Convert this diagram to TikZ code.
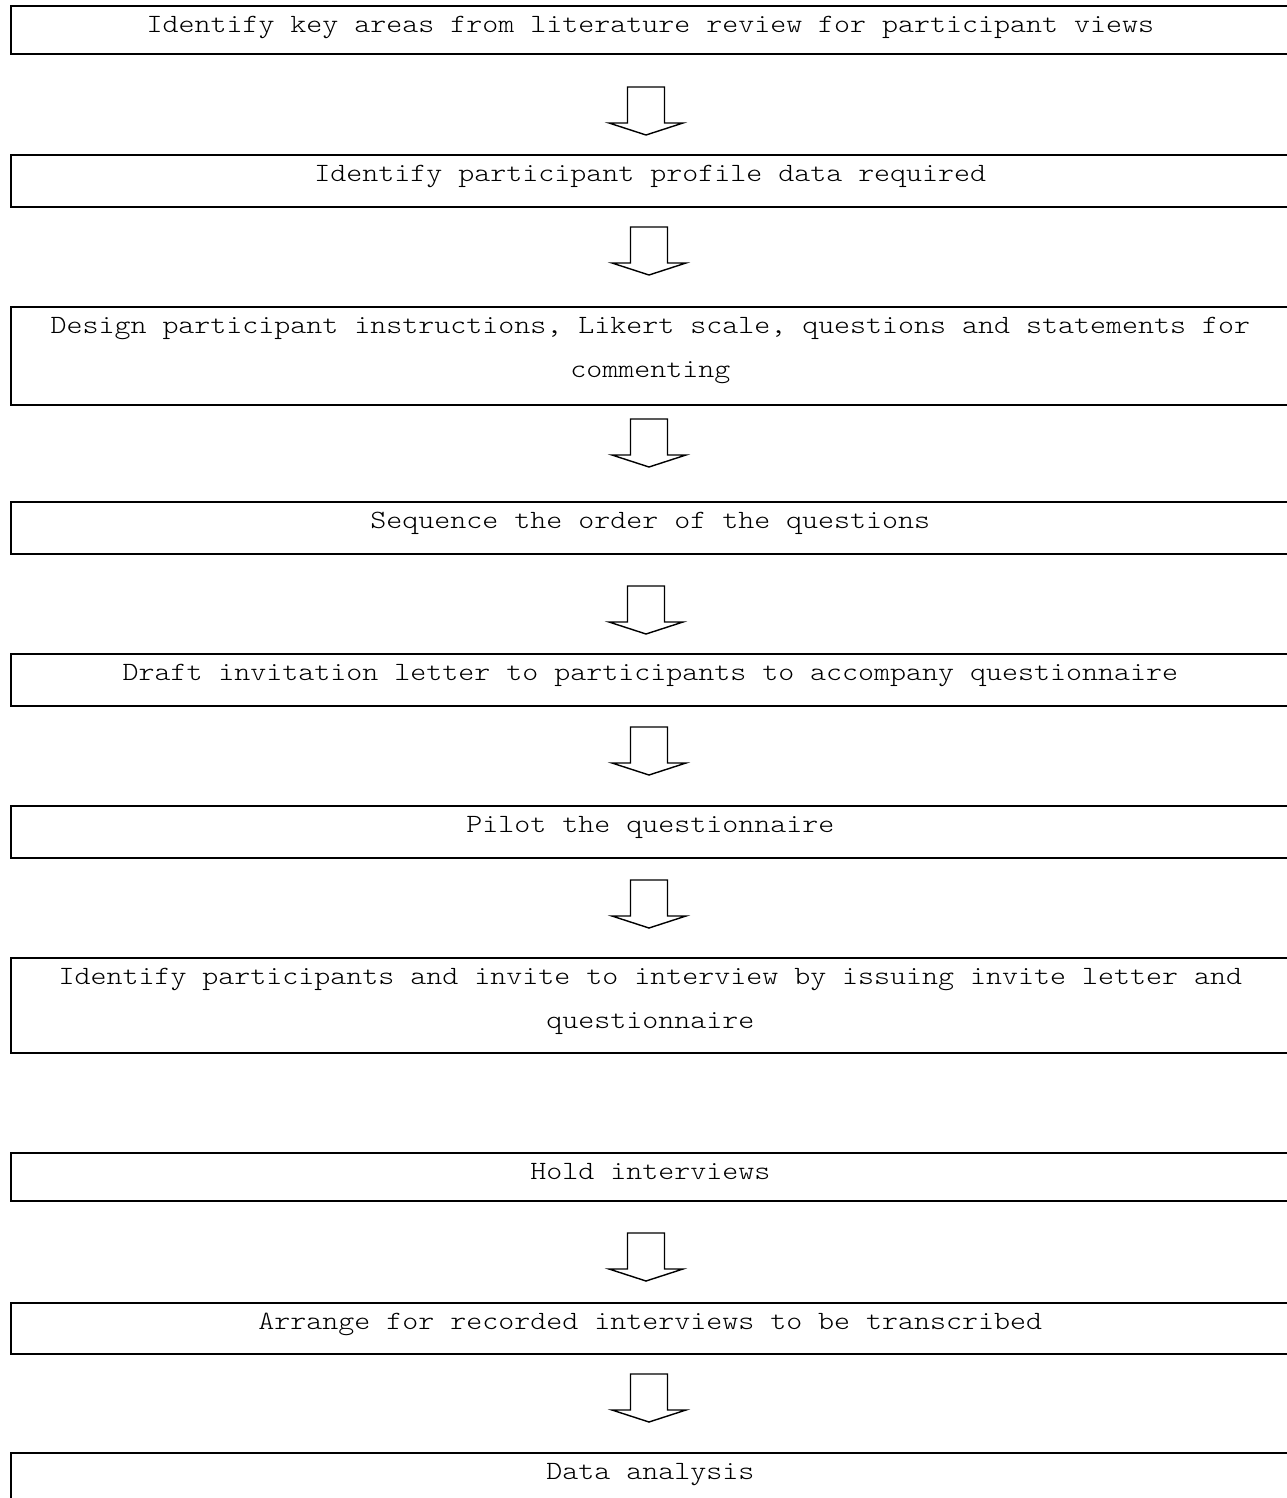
\documentclass[tikz,border=0pt]{standalone}
\usepackage{fontspec}
\newfontfamily\courfont[FakeStretch=1.156]{lmmonolt10-regular.otf}
\newcommand\courspace{\spaceskip=9.1pt\relax\xspaceskip=9.1pt\relax}
\usetikzlibrary{positioning}

\begin{document}
\begin{tikzpicture}[
		x=0.02cm, y=-0.02cm,
		stage/.style={
			draw,
			rectangle,
			line width=1.1pt,
			anchor=north west,
			inner sep=0pt,
			text width=25.58cm,
			align=center,
			text height=0.54cm,
			font=\courfont\fontsize{15pt}{25pt}\selectfont,
			execute at begin node=\courspace
		},
		flow/.pic={
			\draw[line width=0.8pt, line join=miter] (-18.5,0) -- (-18.5,36) -- (-37,36) -- (0,48) -- (37,36) -- (18.5,36) -- (18.5,0) -- cycle;
		}
	]
		\useasboundingbox (0,0) rectangle (1287,1498);
		\clip (0,0) rectangle (1287,1498);
		
		\node[stage, text depth=0.42cm] (S1) at (10,5) {Identify key areas from literature review for participant views};
		\node[stage, text depth=0.50cm] (S2) at (10,154) {Identify participant profile data required};
		\node[stage, text depth=1.42cm] (S3) at (10,306) {Design participant instructions, Likert scale, questions and statements for\\ commenting};
		\node[stage, text depth=0.50cm] (S4) at (10,501) {Sequence the order of the questions};
		\node[stage, text depth=0.50cm] (S5) at (10,653) {Draft invitation letter to participants to accompany questionnaire};
		\node[stage, text depth=0.50cm] (S6) at (10,805) {Pilot the questionnaire};
		\node[stage, text depth=1.36cm] (S7) at (10,957) {Identify participants and invite to interview by issuing invite letter and\\ questionnaire};
		\node[stage, text depth=0.42cm] (S8) at (10,1152) {Hold interviews};
		\node[stage, text depth=0.48cm] (S9) at (10,1302) {Arrange for recorded interviews to be transcribed};
		\node[stage, text depth=0.60cm] (S10) at (10,1452) {Data analysis};
		
		% block arrows between the stages
		\pic at (646,87) {flow};
		\pic at (649,227) {flow};
		\pic at (649,419) {flow};
		\pic at (646,586) {flow};
		\pic at (649,727) {flow};
		\pic at (649,880) {flow};
		\pic at (646,1233) {flow};
		\pic at (649,1374) {flow};
	\end{tikzpicture}
\end{document}
